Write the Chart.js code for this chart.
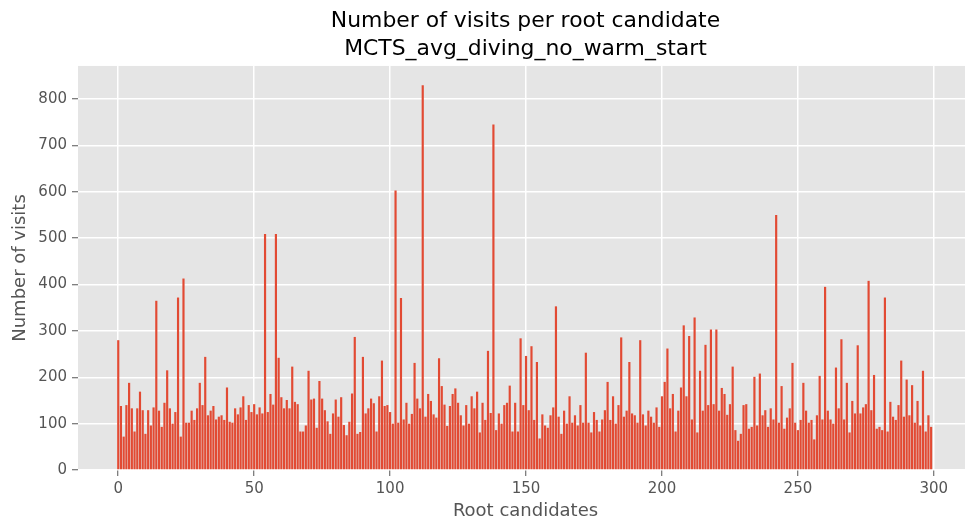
<!DOCTYPE html>
<html>
<head>
<meta charset="utf-8">
<script src="https://cdn.jsdelivr.net/npm/chart.js@4.4.1/dist/chart.umd.min.js"></script>
<style>
  html, body { margin: 0; padding: 0; overflow: hidden; background: #ffffff; }
  #wrap { width: 975px; height: 521px; }
</style>
</head>
<body>
<div id="wrap"><canvas id="chart" width="975" height="521"></canvas></div>
<script>
// Visit counts per root candidate (index = candidate id)
const visits = [
  280, 138,  72, 140, 188, 133,  83, 133, 169, 129,
   78, 129,  96, 135, 365, 128,  93, 145, 215, 133,
  100, 125, 372,  72, 413, 102, 102, 128, 108, 133,
  188, 140, 244, 118, 128, 138, 109, 115, 118, 108,
  178, 104, 102, 133, 120, 135, 159, 108, 140, 125,
  142, 120, 135, 122, 509, 125, 164, 141, 509, 242,
  157, 133, 151, 133, 223, 147, 142,  83,  83,  96,
  214, 152, 154,  91, 192, 154, 129, 105,  78, 122,
  152, 115, 157,  97,  75, 104, 165, 287,  78,  82,
  244, 122, 133, 154, 144,  83, 159, 236, 138, 140,
  125, 100, 603, 102, 371, 109, 145, 100, 121, 231,
  154, 133, 830, 115, 164, 149, 120, 113, 241, 181,
  141,  95, 138, 164, 176, 145, 118,  96, 140, 100,
  159, 133, 169,  81, 145, 108, 257, 123, 745,  86,
  122, 100, 140, 145, 182,  83, 145,  83, 284, 140,
  246, 129, 267, 108, 233,  68, 120,  96,  91, 118,
  135, 353, 115,  78, 128, 100, 159, 102, 118,  96,
  140, 102, 253, 102,  81, 125, 108,  83, 109, 129,
  190, 108, 159, 100, 140, 286, 115, 128, 233, 122,
  118, 102, 280, 120,  96, 128, 115, 102, 135,  93,
  159, 190, 262, 133, 164,  83, 128, 178, 312, 159,
  289, 109, 329,  81, 214, 128, 270, 140, 303, 142,
  303, 128, 177, 164, 119, 142, 223,  86,  63,  78,
  140, 142,  89,  93, 201,  96, 208, 118, 129,  93,
  133, 109, 550, 102, 181,  89, 113, 133, 231, 102,
   86, 108, 188, 128, 102, 108,  66, 118, 203, 109,
  395, 128, 109, 100, 221, 133, 282, 109, 188,  81,
  149, 122, 269, 122, 135, 142, 408, 129, 205,  89,
   93,  86, 372,  83, 147, 115, 108, 140, 236, 115,
  195, 118, 183, 102, 149,  96, 214,  83, 118,  93
];
const candidates = visits.map((_, i) => i);

const xTickValues = [0, 50, 100, 150, 200, 250, 300];
const yTickValues = [0, 100, 200, 300, 400, 500, 600, 700, 800];

const titleLines = ['Number of visits per root candidate', 'MCTS_avg_diving_no_warm_start'];
const xTitle = 'Root candidates';
const yTitle = 'Number of visits';

Chart.defaults.font.family = "'DejaVu Sans', sans-serif";

// Grey panel behind the bars
const panelBackground = {
  id: 'panelBackground',
  beforeDraw(chart) {
    const { ctx, chartArea: a } = chart;
    ctx.save();
    ctx.fillStyle = '#ffffff';
    ctx.fillRect(0, 0, chart.width, chart.height);
    ctx.fillStyle = '#E5E5E5';
    ctx.fillRect(a.left, a.top, a.right - a.left, a.bottom - a.top);
    ctx.restore();
  }
};

new Chart(document.getElementById('chart'), {
  type: 'bar',
  data: {
    datasets: [{
      data: visits.map((v, i) => ({ x: candidates[i], y: v })),
      backgroundColor: '#E24A33',
      borderWidth: 0,
      barPercentage: 0.8,
      categoryPercentage: 1.0
    }]
  },
  options: {
    responsive: false,
    animation: false,
    devicePixelRatio: 1,
    layout: { padding: { left: 0, right: 2, top: 0, bottom: 0 } },
    plugins: {
      legend: { display: false },
      tooltip: { enabled: false },
      title: {
        display: true,
        text: titleLines,
        fullSize: false,
        color: '#000000',
        font: { size: 21.9, weight: 'normal', lineHeight: 1.25 },
        padding: { top: 8, bottom: 3.2 }
      }
    },
    scales: {
      x: {
        type: 'linear',
        min: -14.8,
        max: 314.4,
        offset: false,
        afterBuildTicks: s => { s.ticks = xTickValues.map(v => ({ value: v })); },
        afterFit: s => { s.height = 51; },
        ticks: {
          color: '#555555',
          font: { size: 15 },
          padding: 4,
          maxRotation: 0,
          autoSkip: false,
          callback: v => String(v)
        },
        grid: {
          offset: false,
          color: '#ffffff',
          lineWidth: 1.5,
          tickColor: '#555555',
          tickLength: 6,
          tickWidth: 1
        },
        border: { display: false },
        title: {
          display: true,
          text: xTitle,
          color: '#555555',
          font: { size: 18, lineHeight: 1 },
          padding: { top: 0, bottom: 1 }
        }
      },
      y: {
        type: 'linear',
        min: 0,
        max: 871.5,
        afterBuildTicks: s => { s.ticks = yTickValues.map(v => ({ value: v })); },
        afterFit: s => { s.width = 78; },
        ticks: {
          color: '#555555',
          font: { size: 15 },
          padding: 5,
          callback: v => String(v)
        },
        grid: {
          color: '#ffffff',
          lineWidth: 1.5,
          tickColor: '#555555',
          tickLength: 6,
          tickWidth: 1
        },
        border: { display: false },
        title: {
          display: true,
          text: yTitle,
          color: '#555555',
          font: { size: 18, lineHeight: 1.2 },
          padding: { top: 10, bottom: 0 }
        }
      }
    }
  },
  plugins: [panelBackground]
});
</script>
</body>
</html>
